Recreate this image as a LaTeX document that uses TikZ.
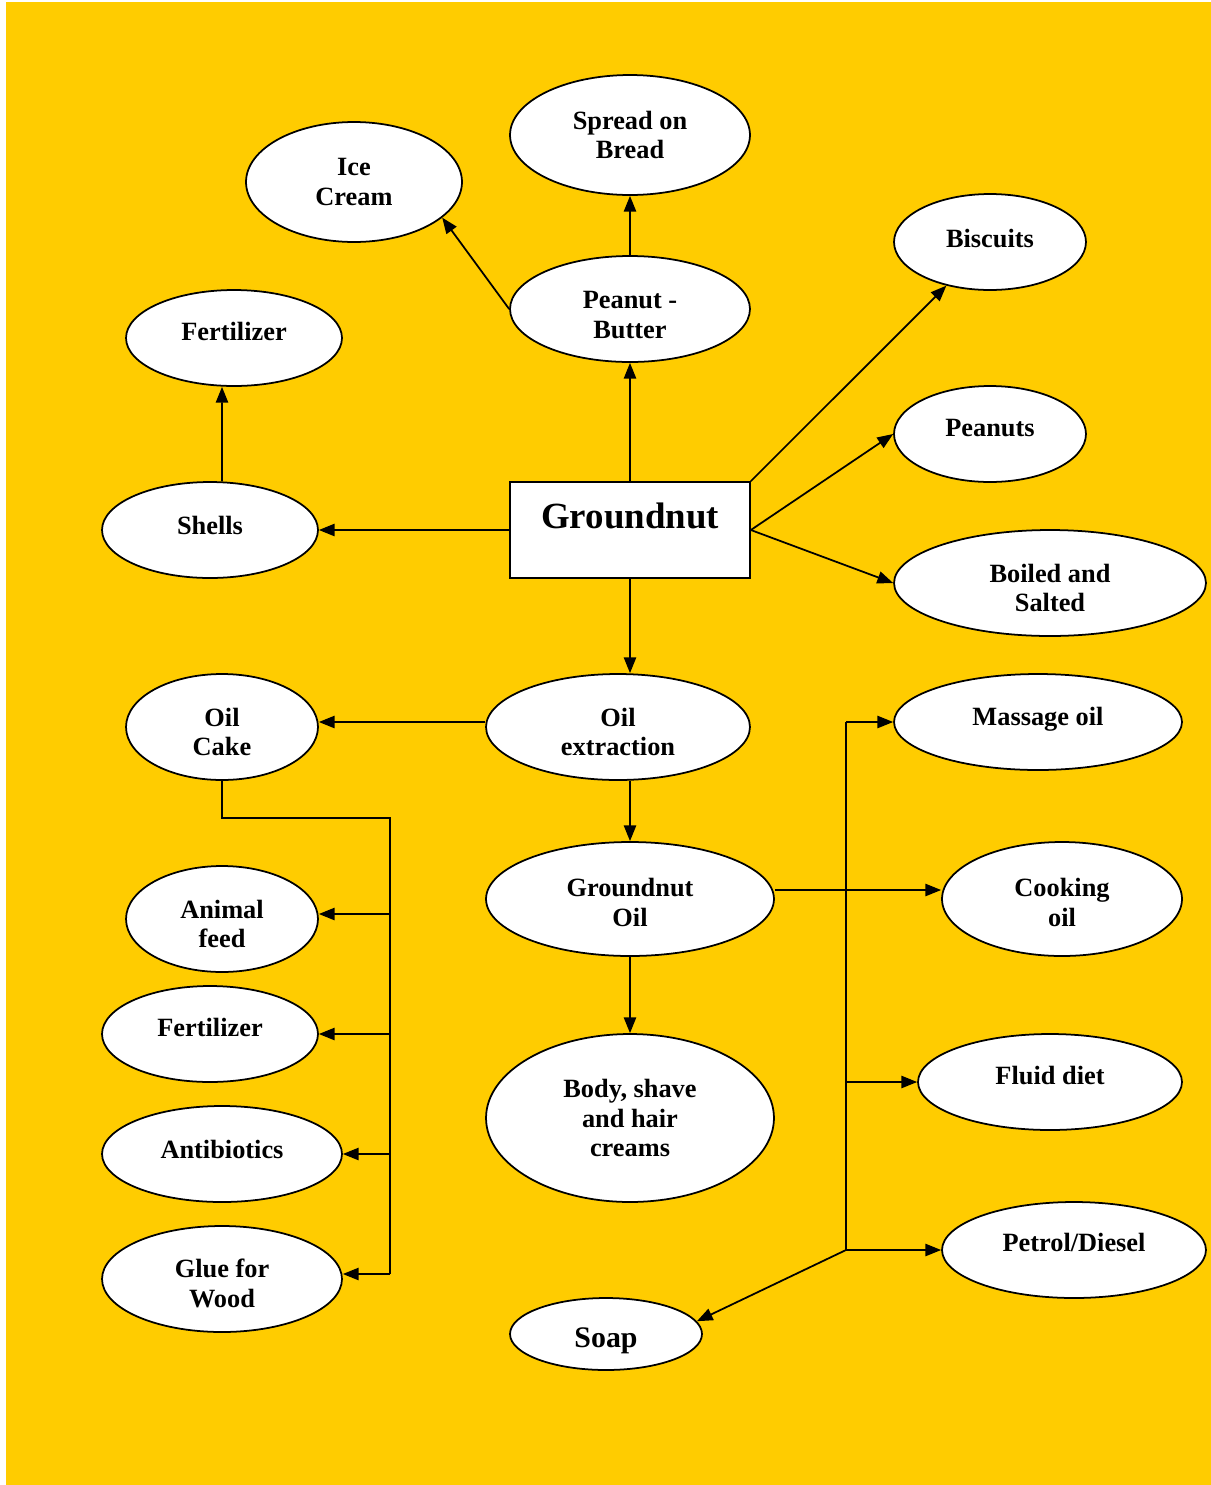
\documentclass[tikz,border=0pt]{standalone}
\usepackage{fontspec}
\setmainfont{Liberation Serif}
\usetikzlibrary{shapes.geometric, arrows.meta}
\definecolor{bgyellow}{HTML}{FFCC00}
\tikzset{
  oval/.style={ellipse, draw, fill=white, line width=1pt, inner sep=0pt, align=center,
    font=\fontsize{15}{17}\selectfont\bfseries},
  drop/.style={execute at begin node={\rule{0pt}{#1}}},
  lift/.style={execute at end node={\rule[-#1]{0pt}{#1}}},
  link/.style={line width=1pt, -{Triangle[length=9pt,width=7pt]}},
  bus/.style={line width=1pt}
}

\begin{document}
\begin{tikzpicture}[x=0.02cm, y=-0.02cm]
      \useasboundingbox (0,0) rectangle (1211,1485);
      \fill [bgyellow] (6,2) rectangle (1211,1485);
      %top part
      \node [oval, minimum width=4.8cm, minimum height=2.4cm] (spr) at (630,135) {Spread on\\Bread};
      \node [oval, minimum width=4.32cm, minimum height=2.4cm] (ice) at (354,182) {Ice\\Cream};
      \node [oval, drop=34pt, minimum width=4.8cm, minimum height=2.12cm] (pb) at (630,309) {Peanut -\\Butter};
      \node [oval, lift=4.5pt, minimum width=3.84cm, minimum height=1.92cm] (bis) at (990,242) {Biscuits};
      \node [oval, lift=8pt, minimum width=4.32cm, minimum height=1.92cm] (fer) at (234,338) {Fertilizer};
      \node [oval, lift=7.5pt, minimum width=3.84cm, minimum height=1.92cm] (pea) at (990,434) {Peanuts};
      \node [oval, lift=5.6pt, minimum width=4.32cm, minimum height=1.92cm] (shl) at (210,530) {Shells};
      \node [draw, fill=white, line width=1pt, minimum width=4.8cm, minimum height=1.92cm,
             font=\fontsize{21}{24}\selectfont\bfseries, text depth=16pt] (gn) at (630,530) {Groundnut};
      \node [oval, drop=33pt, minimum width=6.24cm, minimum height=2.12cm] (boil) at (1050,583) {Boiled and\\Salted};
      %oil part
      \node [oval, drop=33pt, minimum width=3.84cm, minimum height=2.12cm] (cake) at (222,727) {Oil\\Cake};
      \node [oval, drop=33pt, minimum width=5.28cm, minimum height=2.12cm] (oil) at (618,727) {Oil\\extraction};
      \node [oval, lift=6.4pt, minimum width=5.76cm, minimum height=1.92cm] (mas) at (1038,722) {Massage oil};
      \node [oval, drop=31pt, minimum width=5.76cm, minimum height=2.28cm] (gno) at (630,899) {Groundnut\\Oil};
      \node [oval, drop=31pt, minimum width=4.8cm, minimum height=2.28cm] (cook) at (1062,899) {Cooking\\oil};
      \node [oval, drop=33pt, minimum width=3.84cm, minimum height=2.12cm] (feed) at (222,919) {Animal\\feed};
      \node [oval, lift=8pt, minimum width=4.32cm, minimum height=1.92cm] (fer2) at (210,1034) {Fertilizer};
      \node [oval, lift=8pt, minimum width=5.28cm, minimum height=1.92cm] (fld) at (1050,1082) {Fluid diet};
      \node [oval, minimum width=5.76cm, minimum height=3.36cm] (body) at (630,1118) {Body, shave\\and hair\\creams};
      \node [oval, lift=5.6pt, minimum width=4.8cm, minimum height=1.92cm] (anti) at (222,1154) {Antibiotics};
      \node [oval, drop=33pt, minimum width=4.8cm, minimum height=2.12cm] (glue) at (222,1279) {Glue for\\Wood};
      \node [oval, lift=9pt, minimum width=5.28cm, minimum height=1.92cm] (pet) at (1074,1250) {Petrol/Diesel};
      \node [oval, drop=19.5pt, minimum width=3.84cm, minimum height=1.44cm,
             font=\fontsize{17}{19}\selectfont\bfseries] (soap) at (606,1334) {Soap};
      \coordinate (lbus) at (390,818);
      \coordinate (rbus) at (846,722);
      %arrows from groundnut
      \draw [link] (gn.north) -- (pb.south);
      \draw [link] (pb.north) -- (spr.south);
      \draw [link] (pb.west) -- (ice.-22);
      \draw [link] (gn.north east) -- (bis);
      \draw [link] (gn.east) -- (pea.west);
      \draw [link] (gn.east) -- (boil.west);
      \draw [link] (gn.west) -- (shl.east);
      \draw [link] ([xshift=0.24cm]shl.north) -- ([xshift=-0.24cm]fer.south);
      \draw [link] (gn.south) -- (oil.north -| gn.south);
      \draw [link] ([yshift=0.1cm]oil.west) -- ([yshift=0.1cm]cake.east);
      \draw [link] (oil.south -| gno.north) -- (gno.north);
      \draw [link] (gno.south) -- (body.north);
      \draw [link] ([yshift=0.18cm]gno.east) -- ([yshift=0.18cm]cook.west);
      %oil cake uses
      \draw [bus] (cake.south) |- (lbus) -- ([yshift=0.1cm]lbus |- glue.east);
      \draw [link] ([yshift=0.1cm]lbus |- feed.east) -- ([yshift=0.1cm]feed.east);
      \draw [link] (lbus |- fer2.east) -- (fer2.east);
      \draw [link] (lbus |- anti.east) -- (anti.east);
      \draw [link] ([yshift=0.1cm]lbus |- glue.east) -- ([yshift=0.1cm]glue.east);
      %oil uses
      \draw [bus] (rbus) -- (rbus |- pet.west);
      \draw [link] (rbus) -- (mas.west);
      \draw [link] (rbus |- fld.west) -- (fld.west);
      \draw [link] (rbus |- pet.west) -- (pet.west);
      \draw [link] (rbus |- pet.west) -- (soap.8);
\end{tikzpicture}
\end{document}
